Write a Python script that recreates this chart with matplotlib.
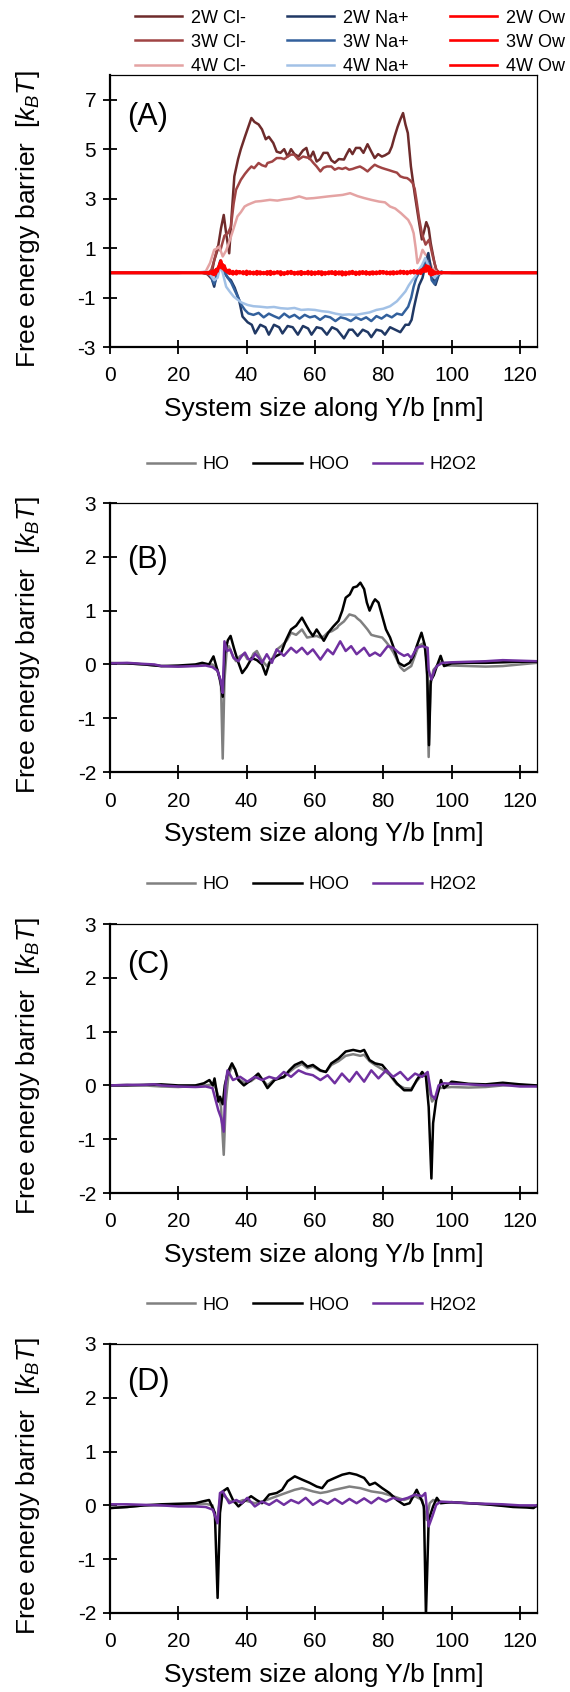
import matplotlib
matplotlib.use("Agg")
import matplotlib.pyplot as plt

plt.rcParams['font.family'] = ['Liberation Sans', 'DejaVu Sans']
plt.rcParams['mathtext.fontset'] = 'custom'
plt.rcParams['mathtext.rm'] = 'Liberation Sans'
plt.rcParams['mathtext.it'] = 'Liberation Sans:italic'
plt.rcParams['axes.unicode_minus'] = False

# ---------------- panel A : ions and water oxygen ----------------
cl2_x = [0, 20, 27, 28.5, 29.5, 30.5, 31.5, 32.5, 33.3, 34.0, 34.9, 35.6, 36.4, 37.5, 38.3, 39.5, 40.5, 41.4, 42.3, 43.5,
         44.5, 45.6, 46.5, 47.8, 48.8, 49.9, 51, 52, 53, 54, 55.2, 56.5, 57.5, 58.4, 59.5, 60.5, 61.5, 62.5, 63.7, 64.8,
         65.8, 67, 68.5, 69.3, 70.1, 71, 72, 73.2, 74.2, 75.4, 76.5, 77.5, 78.5, 79.6, 80.5, 81.7, 82.5, 83.3, 84.2, 85,
         85.8, 86.5, 87.2, 88.1, 89.2, 90.2, 91.3, 92, 92.6, 93.3, 93.9, 95, 96, 97.1, 98, 100, 125]
cl2_y = [0, 0, 0, -0.05, -0.2, 0.5, 0.93, 1.8, 2.34, 1.6, 0.79, 2.3, 3.9, 4.6, 5.0, 5.5, 5.9, 6.26, 6.1, 6.0,
         5.8, 5.4, 5.5, 5.25, 4.9, 4.85, 5.0, 4.7, 5.0, 4.8, 4.7, 4.95, 5.05, 4.6, 4.9, 4.5, 4.6, 4.85, 4.85, 4.55,
         4.45, 4.6, 4.58, 4.8, 5.0, 4.8, 5.05, 5.05, 4.85, 5.2, 4.9, 4.64, 4.8, 4.7, 4.75, 4.85, 5.1, 5.5, 5.9, 6.2,
         6.46, 6.0, 5.65, 4.3, 3.2, 2.3, 1.35, 1.7, 2.05, 1.8, 1.2, 0.4, -0.1, 0.0, 0.0, 0, 0]

cl3_x = [0, 20, 27, 28.5, 29.7, 30.5, 31.5, 32.3, 33.5, 34.5, 35.4, 36.2, 36.9, 38.3, 39.5, 40.5, 41.4, 42.2, 43.5, 44.5,
         45.6, 46.1, 47.5, 48.8, 50, 51, 52, 53, 53.9, 55.2, 56.5, 58.4, 59.5, 60.5, 61.6, 62.5, 63.5, 64.8, 65.8, 66.9,
         68, 69, 70, 71, 72, 73.2, 74.2, 75.4, 76.5, 77.5, 78.5, 79.6, 80.5, 81.7, 82.8, 84, 85, 86, 87, 87.8,
         88.6, 89.2, 89.7, 90.5, 91.3, 92, 92.4, 93.4, 94.5, 95.5, 96.6, 98, 100, 125]
cl3_y = [0, 0, 0, -0.05, 0.13, 0.5, 1.06, 0.9, 1.5, 1.6, 1.87, 2.8, 3.36, 3.76, 4.0, 4.17, 4.3, 4.23, 4.44, 4.35,
         4.3, 4.44, 4.5, 4.64, 4.64, 4.6, 4.7, 4.78, 4.78, 4.58, 4.7, 4.64, 4.45, 4.3, 4.1, 4.25, 4.3, 4.3, 4.17, 4.24,
         4.2, 4.25, 4.17, 4.2, 4.25, 4.3, 4.22, 4.1, 4.25, 4.37, 4.3, 4.24, 4.2, 4.15, 4.1, 4.05, 3.9, 3.85, 3.83, 3.75,
         3.63, 3.4, 2.96, 2.2, 1.6, 1.3, 1.14, 1.34, 0.67, 0.13, 0.0, 0, 0, 0]

cl4_x = [0, 20, 26.5, 28, 29.3, 30.5, 31.5, 32, 33, 34, 35.1, 36.2, 37.3, 38.3, 39.4, 40.3, 41.5, 42.6, 44.2, 46.8,
         49, 51, 53, 55.4, 57.5, 59.6, 61.5, 63.9, 66, 68.1, 70.3, 72.5, 74.5, 76.5, 78.8, 80.5, 82, 83.5, 85.2, 87.3,
         88.2, 88.9, 89.5, 90, 90.8, 91.5, 92.3, 93.1, 94, 94.7, 96, 98, 100, 125]
cl4_y = [0, 0, 0, 0.05, 0.4, 0.93, 1.0, 1.06, 0.66, 0.9, 1.33, 1.8, 2.28, 2.45, 2.68, 2.75, 2.82, 2.88, 2.9, 2.95,
         2.92, 2.97, 3.0, 3.09, 3.0, 3.02, 3.05, 3.09, 3.12, 3.15, 3.22, 3.1, 3.02, 2.95, 2.88, 2.85, 2.68, 2.6, 2.41, 2.14,
         1.9, 1.6, 1.0, 0.39, 0.6, 0.93, 0.75, 0.66, 0.3, 0.12, 0.0, 0, 0, 0]

na2_x = [0, 20, 27, 28.5, 29.5, 30.5, 31.5, 32.3, 33.5, 34.5, 35.4, 36.5, 37.8, 38.8, 40.3, 41.5, 42.5, 44, 45.5, 46.5,
         48, 49.5, 50.5, 52, 53.5, 55, 56.5, 58, 59, 60.5, 62, 63.5, 65, 66.5, 68.5, 70, 71, 72.5, 74, 75.5,
         76.5, 78, 79.5, 80.5, 82, 83.5, 85, 86.5, 87.5, 88.3, 89, 89.8, 90.5, 91.5, 92.3, 93.2, 93.8, 94.5, 95.3, 96.2,
         97, 98, 100, 125]
na2_y = [0, 0, 0.02, 0.0, -0.1, -0.56, 0.1, 0.5, 0.0, -0.2, -0.3, -0.6, -1.1, -1.77, -2.0, -2.1, -2.45, -2.1, -2.2, -2.5,
         -2.1, -2.2, -2.45, -2.15, -2.2, -2.5, -2.15, -2.25, -2.5, -2.2, -2.25, -2.5, -2.2, -2.3, -2.65, -2.3, -2.3, -2.55, -2.3, -2.4,
         -2.6, -2.3, -2.35, -2.5, -2.2, -2.3, -2.4, -2.1, -2.1, -1.9, -1.4, -0.9, -0.5, -0.2, 0.3, 0.8, 0.3, -0.2, -0.49, -0.1,
         0.05, 0.0, 0, 0]

na3_x = [0, 20, 27, 28.5, 29.5, 30.5, 31.5, 32.3, 33.5, 34.5, 35.5, 36.5, 37.5, 38.5, 39.5, 40.5, 42, 43.5, 45, 46.5,
         48, 49.5, 51, 52.5, 54, 55.5, 57, 58.5, 60, 61.5, 63, 64.5, 66, 67.5, 69, 70.5, 72, 73.5, 75, 76.5,
         78, 79.5, 81, 82.5, 84, 85.5, 87.3, 88.2, 88.9, 89.7, 90.5, 91.5, 92.5, 93.3, 94.2, 95, 96, 97, 100, 125]
na3_y = [0, 0, 0.02, 0.0, -0.15, -0.45, 0.0, 0.35, 0.05, -0.2, -0.4, -0.7, -1.0, -1.3, -1.5, -1.64, -1.7, -1.62, -1.8, -1.65,
         -1.75, -1.84, -1.65, -1.8, -1.7, -1.85, -1.7, -1.8, -1.75, -1.9, -1.75, -1.8, -1.95, -1.8, -1.85, -1.95, -1.8, -1.9, -1.8, -1.95,
         -1.75, -1.85, -1.7, -1.8, -1.65, -1.7, -1.37, -1.0, -0.56, -0.2, 0.0, 0.2, 0.5, 0.4, -0.3, -0.45, -0.1, 0.02, 0, 0]

na4_x = [0, 20, 26, 28, 29.5, 30.5, 31.5, 32.3, 33, 34, 35, 36.2, 37.5, 38.5, 40.3, 42, 44, 46, 48, 50,
         52, 54, 56, 58, 60, 62, 64, 66, 68, 70, 72, 74, 76, 78, 80, 82, 84, 85.2, 86.5, 87.5,
         88.5, 89.4, 90.3, 91.3, 92.3, 93.2, 94, 95, 96, 97.5, 100, 125]
na4_y = [0, 0, 0.02, 0.05, -0.1, -0.3, -0.2, 0.3, 0.0, -0.56, -0.75, -0.96, -1.1, -1.2, -1.3, -1.35, -1.37, -1.4, -1.38, -1.43,
         -1.45, -1.42, -1.5, -1.48, -1.5, -1.55, -1.58, -1.65, -1.7, -1.68, -1.7, -1.65, -1.6, -1.5, -1.45, -1.35, -1.15, -0.96, -0.75, -0.5,
         -0.3, -0.15, 0.1, 0.3, 0.6, 0.3, 0.0, -0.2, -0.05, 0.0, 0, 0]

ow_x = [0, 20, 27, 28, 29, 30, 30.5, 31, 31.5, 32, 32.5, 33, 33.5, 34,
        35, 36, 37, 38, 39, 40, 41, 42, 43, 44, 45, 46, 47, 48, 49, 50, 51, 52, 53, 54,
        55, 56, 57, 58, 59, 60, 61, 62, 63, 64, 65, 66, 67, 68, 69, 70, 71, 72, 73, 74,
        75, 76, 77, 78, 79, 80, 81, 82, 83, 84, 85, 86, 87, 88, 89, 90, 91,
        92, 92.5, 93, 93.5, 94, 94.5, 95, 96, 97, 98, 100, 125]
ow2_y = [0, 0, 0, 0.02, -0.05, 0.08, -0.1, 0.15, 0.05, 0.35, 0.5, 0.2, 0.3, 0.1,
         0.12, -0.05, 0.08, -0.02, 0.06, -0.08, 0.04, -0.03, 0.07, -0.06,
         0.03, -0.07, 0.05, -0.04, 0.06, -0.09, 0.02, -0.05, 0.07, -0.03,
         0.04, -0.08, 0.03, -0.06, 0.05, -0.04, 0.06, -0.09, 0.03, -0.05,
         0.02, -0.08, 0.05, -0.1, 0.04, -0.06, 0.03, -0.08, 0.05, -0.04,
         0.06, -0.07, 0.02, -0.05, 0.07, -0.03, 0.05, -0.06, 0.04, -0.02,
         0.08, -0.04, 0.06, -0.02, 0.1, -0.03, 0.12,
         0.05, 0.3, 0.1, 0.25, -0.1, 0.1, -0.05, 0.04, -0.02, 0.01, 0, 0]
ow3_y = [0, 0, 0, 0.01, 0.03, -0.06, 0.1, -0.05, 0.2, 0.25, 0.45, 0.15, 0.25, 0.05,
         -0.04, 0.07, -0.06, 0.05, -0.03, 0.08, -0.05, 0.04, -0.07, 0.03,
         -0.05, 0.06, -0.08, 0.04, -0.02, 0.05, -0.07, 0.06, -0.04, 0.03,
         -0.06, 0.05, -0.03, 0.07, -0.08, 0.04, -0.05, 0.03, -0.07, 0.05,
         -0.04, 0.06, -0.06, 0.03, -0.09, 0.05, -0.04, 0.04, -0.07, 0.06,
         -0.05, 0.03, -0.06, 0.05, -0.04, 0.06, -0.03, 0.04, -0.06, 0.05,
         -0.03, 0.07, -0.05, 0.08, -0.02, 0.09, -0.04,
         0.15, 0.05, 0.28, -0.05, 0.15, -0.08, 0.05, -0.03, 0.02, 0, 0, 0]
ow4_y = [0, 0, 0, -0.01, 0.02, 0.05, -0.04, 0.12, 0.1, 0.3, 0.2, 0.35, 0.1, 0.08,
         0.02, -0.06, 0.04, 0.06, -0.05, 0.02, 0.05, -0.06, 0.03, 0.05,
         -0.04, 0.02, 0.07, -0.05, 0.03, 0.04, -0.06, 0.01, 0.05, -0.07,
         0.02, 0.06, -0.05, 0.01, 0.04, -0.07, 0.03, 0.05, -0.04, 0.02,
         0.06, -0.05, 0.02, 0.05, -0.06, 0.01, 0.07, -0.05, 0.03, 0.04,
         -0.06, 0.02, 0.05, -0.04, 0.03, 0.06, -0.05, 0.02, 0.05, -0.04,
         0.03, 0.06, -0.03, 0.05, 0.07, -0.02, 0.08,
         0.2, 0.12, 0.22, 0.0, 0.1, 0.05, -0.04, 0.03, 0.01, 0, 0, 0]

# ---------------- panel B ----------------
b_hoo_x = [0, 5, 10, 15, 20, 25, 27, 29, 30.3, 31.2, 32.3, 33.0, 33.6, 34.5, 35.3, 36.3, 37.5, 38.7, 40, 41.5,
           43, 44.5, 45.6, 46.8, 48.5, 50, 51.5, 53, 54.5, 56.2, 57.5, 58.4, 59.4, 60.5, 61.5, 62.6, 64, 65.3, 66.9, 68,
           69, 70.2, 71.2, 72.3, 73.3, 74.4, 75.2, 76, 77, 77.6, 78.6, 79.7, 80.8, 82, 82.9, 84.5, 86.1, 87.7, 88.8, 89.8,
           91.2, 92.2, 92.9, 93.4, 93.9, 94.8, 95.7, 96.8, 97.8, 100, 105, 110, 115, 120, 125]
b_hoo_y = [0.02, 0.02, 0.0, -0.03, -0.02, 0.0, 0.03, 0.0, 0.15, -0.05, -0.3, -0.6, 0.2, 0.45, 0.53, 0.3, 0.05, -0.16, -0.05, 0.12,
           0.08, 0.0, -0.19, 0.05, 0.15, 0.2, 0.45, 0.65, 0.72, 0.87, 0.72, 0.62, 0.53, 0.65, 0.55, 0.44, 0.6, 0.7, 0.81, 1.0,
           1.24, 1.3, 1.43, 1.45, 1.52, 1.4, 1.15, 1.0, 1.15, 1.21, 1.15, 0.9, 0.65, 0.5, 0.34, 0.03, -0.03, 0.03, 0.15, 0.34,
           0.59, 0.35, -0.2, -1.5, -0.3, -0.2, -0.03, 0.16, -0.03, 0.02, 0.03, 0.03, 0.04, 0.05, 0.05]
b_ho_x = [0, 5, 10, 15, 20, 25, 28, 30, 31.5, 32.5, 33.0, 33.5, 34.2, 34.8, 36, 36.9, 38, 39.3, 40.2, 41.2,
          42, 43, 44.2, 45.9, 47.4, 48.9, 50.3, 51.8, 53, 54.5, 56.2, 57.7, 59.5, 60.5, 61.6, 62.6, 63.7, 65, 66.5, 66.9,
          68.5, 70.1, 71.7, 72.5, 73.3, 74.5, 75.4, 76.5, 77.6, 79.7, 80.8, 81.8, 83, 84, 85, 86.1, 87, 88.2, 89.2, 90.3,
          91.9, 92.7, 93.3, 93.8, 94.7, 95.7, 97, 98, 100, 105, 110, 115, 120, 125]
b_ho_y = [0.03, 0.02, 0.0, -0.03, -0.04, -0.02, 0.0, 0.0, -0.1, -0.4, -1.75, -0.3, 0.3, 0.34, 0.15, 0.06, 0.15, 0.2, 0.1, 0.09,
          0.2, 0.25, 0.1, -0.03, 0.1, 0.28, 0.35, 0.45, 0.59, 0.55, 0.65, 0.5, 0.52, 0.53, 0.5, 0.52, 0.59, 0.62, 0.68, 0.72,
          0.8, 0.93, 0.9, 0.85, 0.81, 0.72, 0.65, 0.55, 0.53, 0.5, 0.42, 0.34, 0.22, 0.09, -0.05, -0.12, -0.08, -0.03, 0.15, 0.34,
          0.4, 0.1, -1.72, -0.4, -0.1, -0.03, 0.05, -0.02, -0.02, -0.03, -0.04, -0.03, 0.0, 0.03]
b_h2o2_x = [0, 5, 10, 13, 15, 20, 25, 28, 30, 31.5, 32.4, 33.0, 33.5, 34.3, 35.2, 36.2, 37.6, 38.5, 39.5, 40.5,
            41.5, 42.5, 43.5, 44.5, 45.9, 47.4, 48.8, 50.9, 53, 54.6, 56.2, 57.8, 59.4, 61.6, 63.7, 65.3, 67.4, 69, 70.6, 72.2,
            74.4, 76, 77.6, 79.1, 81.3, 82.9, 84.5, 86.1, 87.2, 88.2, 89.8, 91.4, 93, 93.3, 94.1, 95, 95.7, 97.3, 100, 105,
            110, 115, 120, 125]
b_h2o2_y = [0.02, 0.03, 0.01, 0.0, -0.03, -0.04, -0.03, -0.02, -0.05, -0.12, -0.3, -0.53, 0.43, 0.25, 0.28, 0.12, 0.06, 0.15, 0.22, 0.1,
            0.09, 0.2, 0.13, 0.03, 0.19, 0.03, 0.28, 0.16, 0.31, 0.22, 0.31, 0.19, 0.28, 0.09, 0.28, 0.19, 0.43, 0.25, 0.34, 0.19,
            0.31, 0.16, 0.22, 0.16, 0.34, 0.31, 0.22, 0.16, 0.19, 0.12, 0.31, 0.34, 0.31, -0.1, -0.28, -0.1, -0.03, 0.03, 0.04, 0.05,
            0.06, 0.08, 0.07, 0.06]

# ---------------- panel C ----------------
c_hoo_x = [0, 5, 10, 15, 20, 25, 27.5, 29.1, 30.1, 30.6, 31.7, 32.2, 33.0, 33.6, 34.5, 35.7, 36.6, 37.6, 39.2, 41.3,
           43.4, 45, 46.1, 48.2, 50.9, 52.5, 54.1, 56.2, 57.8, 59.4, 61.6, 63.2, 64.8, 66.9, 69, 71.2, 73.3, 74.4, 76, 77.6,
           79.7, 81.8, 84, 86.1, 88.2, 89.8, 91.4, 92.5, 93.3, 94.1, 94.6, 95.5, 96.2, 96.9, 97.8, 100, 105, 110, 115, 120, 125]
c_hoo_y = [0.0, 0.0, 0.01, 0.02, 0.0, 0.0, 0.04, 0.1, 0.0, 0.13, -0.3, -0.21, -0.35, 0.0, 0.25, 0.41, 0.3, 0.1, 0.0, 0.1,
           0.22, 0.07, -0.05, 0.1, 0.16, 0.28, 0.38, 0.44, 0.35, 0.38, 0.28, 0.25, 0.41, 0.5, 0.63, 0.66, 0.63, 0.66, 0.47, 0.41,
           0.38, 0.22, 0.04, -0.09, -0.09, 0.1, 0.25, 0.16, -0.4, -1.73, -0.7, -0.27, -0.09, 0.1, -0.05, 0.07, 0.03, 0.02, 0.05, 0.02, 0.0]
c_ho_x = [0, 5, 10, 15, 20, 25, 28, 30, 31, 31.7, 32.5, 33.3, 33.9, 34.7, 35.7, 36.6, 37.6, 39.2, 41.3, 43.4,
          45, 46.1, 48.2, 50.9, 52.5, 54.1, 56.2, 57.8, 59.4, 61.6, 63.2, 64.8, 66.9, 69, 71.2, 73.3, 74.4, 76, 77.6, 79.7,
          81.8, 84, 86.1, 88.2, 89.8, 91.4, 92.5, 93.5, 94.3, 95.5, 96.5, 98, 100, 105, 110, 115, 120, 125]
c_ho_y = [0.0, 0.01, 0.0, -0.02, -0.03, -0.01, 0.0, 0.02, -0.05, -0.2, -0.4, -1.29, -0.3, 0.2, 0.35, 0.3, 0.12, 0.05, 0.08, 0.18,
          0.08, 0.0, 0.12, 0.15, 0.25, 0.33, 0.4, 0.32, 0.35, 0.27, 0.25, 0.38, 0.45, 0.55, 0.58, 0.55, 0.57, 0.45, 0.38, 0.3,
          0.2, 0.02, -0.05, -0.06, 0.08, 0.2, 0.2, -0.1, -0.3, -0.2, -0.05, -0.04, -0.03, -0.04, -0.03, 0.0, 0.01, -0.01]
c_h2o2_x = [0, 5, 10, 13, 15, 20, 25, 28, 30, 31.7, 32.5, 33.3, 33.8, 34.4, 36, 38.1, 40.2, 42.4, 44.5, 46.6,
            48.7, 50.9, 53, 55.2, 57.3, 59.4, 61.6, 63.7, 65.8, 67.9, 70.1, 72.2, 74.4, 76.5, 78.6, 80.8, 82.9, 85, 87.2, 89.3,
            91.4, 93, 94.1, 95.1, 96.2, 97.8, 100, 105, 110, 115, 120, 125]
c_h2o2_y = [0.0, 0.01, 0.01, 0.02, 0.0, -0.02, -0.03, -0.02, -0.05, -0.46, -0.6, -0.86, 0.0, 0.28, 0.1, 0.16, 0.07, 0.16, 0.1, 0.16,
            0.12, 0.25, 0.16, 0.28, 0.22, 0.19, 0.1, 0.19, 0.04, 0.22, 0.07, 0.25, 0.07, 0.28, 0.13, 0.28, 0.16, 0.25, 0.1, 0.22,
            0.16, 0.25, -0.18, -0.25, 0.0, 0.04, 0.03, 0.02, 0.0, 0.01, -0.02, -0.02]

# ---------------- panel D ----------------
d_hoo_x = [0, 5, 10, 15, 20, 25, 26.9, 29, 30.1, 30.7, 31.5, 32.2, 33, 34.4, 36, 37.6, 39.2, 41.3, 42.9, 44.5,
           46.6, 48.8, 50.4, 52, 54.1, 56.2, 58.4, 60.5, 62.1, 63.7, 65.8, 68, 70.1, 72.2, 74.4, 76, 77.6, 79.7, 81.8, 84,
           86.1, 87.7, 89.8, 91.2, 91.9, 92.5, 93.3, 94.6, 95.7, 96.8, 100, 105, 110, 115, 118, 122, 124, 125]
d_hoo_y = [-0.05, -0.03, 0.0, 0.02, 0.03, 0.04, 0.07, 0.1, -0.05, -0.14, -1.72, -0.14, 0.26, 0.32, 0.1, -0.02, 0.07, 0.17, 0.1, 0.04,
           0.2, 0.23, 0.29, 0.45, 0.54, 0.48, 0.42, 0.35, 0.32, 0.45, 0.51, 0.57, 0.6, 0.57, 0.51, 0.38, 0.42, 0.32, 0.23, 0.1,
           0.01, 0.04, 0.29, 0.1, -0.02, -2.05, -0.27, -0.02, 0.14, 0.04, 0.06, 0.04, 0.02, -0.01, -0.03, -0.04, -0.05, 0.0]
d_ho_x = [0, 5, 10, 15, 20, 25, 28, 30, 31.2, 32.2, 33, 35, 37, 39, 42.4, 45, 48.8, 51, 54.1, 56.2,
          59.4, 61.6, 63.5, 65.8, 68, 70.1, 73.3, 76.5, 79.7, 82.9, 86.1, 89.3, 91.4, 92.7, 93.6, 94.6, 97, 100, 105, 110,
          115, 120, 125]
d_ho_y = [-0.05, -0.03, 0.0, 0.0, 0.01, 0.02, 0.03, 0.0, -0.33, 0.1, 0.2, 0.08, 0.05, 0.1, 0.04, 0.08, 0.17, 0.22, 0.29, 0.32,
          0.26, 0.23, 0.25, 0.29, 0.32, 0.35, 0.32, 0.26, 0.23, 0.17, 0.1, 0.17, 0.1, -0.27, 0.04, 0.1, 0.06, 0.05, 0.04, 0.02,
          0.0, -0.01, -0.02]
d_h2o2_x = [0, 5, 10, 15, 20, 25, 28, 30.1, 31.5, 32.2, 33, 34.9, 37, 38.6, 40.2, 42.4, 44.5, 46.6, 48.8, 50.9,
            53, 55.2, 57.3, 59.4, 61.6, 63.7, 65.8, 68, 70.1, 72.2, 74.4, 76.5, 78.6, 80.8, 82.9, 85, 87.2, 89.3, 91.4, 92.3,
            93.3, 94.4, 95.5, 96.8, 100, 105, 110, 115, 120, 125]
d_h2o2_y = [0.02, 0.02, 0.01, 0.0, -0.02, -0.02, -0.03, -0.08, -0.33, 0.23, 0.26, 0.04, 0.1, 0.04, 0.14, -0.02, 0.07, 0.01, 0.1, 0.01,
            0.1, 0.04, 0.14, 0.01, 0.1, 0.03, 0.12, 0.03, 0.12, 0.04, 0.13, 0.04, 0.14, 0.07, 0.14, 0.1, 0.14, 0.2, 0.17, 0.23,
            -0.39, -0.2, 0.01, 0.07, 0.06, 0.04, 0.03, 0.02, 0.0, 0.0]

ion_labels = ["2W Cl-", "3W Cl-", "4W Cl-", "2W Na+", "3W Na+", "4W Na+", "2W Ow", "3W Ow", "4W Ow"]
ion_colors = ["#6E2B2B", "#A04444", "#E4A3A3", "#203864", "#32609C", "#A2C1E6", "#FF0000", "#FF0000", "#FF0000"]
rad_labels = ["HO", "HOO", "H2O2"]
rad_colors = ["#808080", "#000000", "#7030A0"]

XLABEL = "System size along Y/b [nm]"
YLABEL = "Free energy barrier  [$k_BT$]"

fig = plt.figure(figsize=(5.7, 16.92), dpi=100)


def style_axes(ax, ylim, yticks, tag, tag_y):
    ax.set_xlim(0, 125)
    ax.set_ylim(*ylim)
    ax.set_xticks([0, 20, 40, 60, 80, 100, 120])
    ax.set_yticks(yticks)
    ax.tick_params(direction='inout', length=10, width=1.3, labelsize=15, color='black')
    ax.tick_params(axis='x', pad=9)
    ax.tick_params(axis='y', pad=5)
    for side in ['left', 'bottom']:
        ax.spines[side].set_linewidth(1.6)
    for side in ['top', 'right']:
        ax.spines[side].set_linewidth(0.9)
    ax.set_xlabel(XLABEL, fontsize=19)
    ax.set_ylabel(YLABEL, fontsize=19)
    ax.xaxis.set_label_coords(0.5, -0.185)
    ax.yaxis.set_label_coords(-0.16, 0.47)
    ax.text(0.04, tag_y, tag, transform=ax.transAxes, fontsize=22, va='center', ha='left')


L, W = 0.193, 0.749

# panel A
axA = fig.add_axes([L, 0.7949, W, 0.1608])
ion_x = [cl2_x, cl3_x, cl4_x, na2_x, na3_x, na4_x, ow_x, ow_x, ow_x]
ion_y = [cl2_y, cl3_y, cl4_y, na2_y, na3_y, na4_y, ow2_y, ow3_y, ow4_y]
for xs, ys, c, lab in zip(ion_x, ion_y, ion_colors, ion_labels):
    lw = 1.9 if 'Ow' in lab else 1.8
    axA.plot(xs, ys, color=c, lw=lw, label=lab)
style_axes(axA, (-3, 8), [-3, -1, 1, 3, 5, 7], "(A)", 0.846)
axA.legend(loc='center', bbox_to_anchor=(0.614, 0.975), bbox_transform=fig.transFigure, ncol=3,
           frameon=False, fontsize=13, handlelength=2.6, handletextpad=0.5, columnspacing=2.3,
           labelspacing=0.4, borderaxespad=0)

# panels B, C, D
rad_data = [
    ([b_ho_x, b_hoo_x, b_h2o2_x], [b_ho_y, b_hoo_y, b_h2o2_y], 0.5437, 0.7252, "(B)", 0.79),
    ([c_ho_x, c_hoo_x, c_h2o2_x], [c_ho_y, c_hoo_y, c_h2o2_y], 0.2949, 0.477, "(C)", 0.848),
    ([d_ho_x, d_hoo_x, d_h2o2_x], [d_ho_y, d_hoo_y, d_h2o2_y], 0.0467, 0.2287, "(D)", 0.859),
]
for xs_list, ys_list, bottom, leg_y, tag, tag_y in rad_data:
    ax = fig.add_axes([L, bottom, W, 0.159])
    for xs, ys, c, lab in zip(xs_list, ys_list, rad_colors, rad_labels):
        ax.plot(xs, ys, color=c, lw=1.8, label=lab)
    style_axes(ax, (-2, 3), [-2, -1, 0, 1, 2, 3], tag, tag_y)
    ax.legend(loc='center', bbox_to_anchor=(0.5465, leg_y), bbox_transform=fig.transFigure, ncol=3,
              frameon=False, fontsize=13, handlelength=2.7, handletextpad=0.4, columnspacing=1.3,
              borderaxespad=0)

fig.savefig("out.png", dpi=100)
